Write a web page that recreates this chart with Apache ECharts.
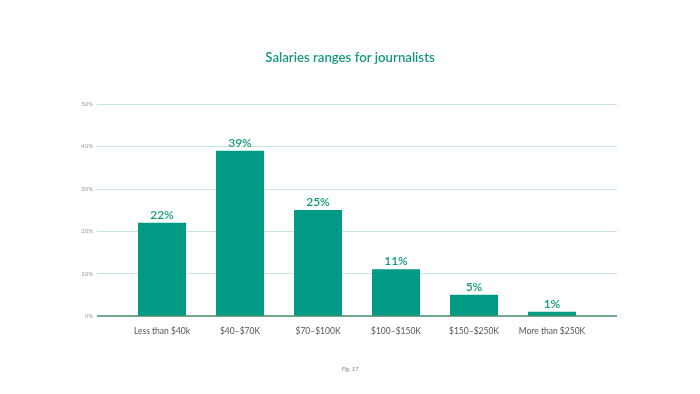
<!DOCTYPE html>
<html><head><meta charset="utf-8">
<script src="https://cdn.jsdelivr.net/npm/echarts@6/dist/echarts.min.js"></script>
<style>html,body{margin:0;padding:0;background:#fff}#c{width:700px;height:394px}</style>
</head><body><div id="c"></div>
<script>
var categories = ['Less than $40k', '$40–$70K', '$70–$100K', '$100–$150K', '$150–$250K', 'More than $250K'];
var values = [22, 39, 25, 11, 5, 1];
var yTicks = [0, 10, 20, 30, 40, 50];
var title = 'Salaries ranges for journalists';
var caption = 'Fig. 17';

var chart = echarts.init(document.getElementById('c'), null, {renderer: 'canvas'});
var font = 'Lato, "Noto Sans", sans-serif';
chart.setOption({
  animation: false,
  title: [{
    text: title, left: 'center', top: 46,
    textStyle: {color: '#16987f', fontSize: 13.2, fontWeight: 600, fontFamily: font}
  }, {
    text: caption, left: 'center', top: 361,
    textStyle: {color: '#888', fontSize: 6, fontStyle: 'italic', fontWeight: 'normal', fontFamily: font}
  }],
  grid: [
    {left: 97, width: 520, top: 104, height: 212},
    {left: 123, width: 468, top: 104, height: 212}
  ],
  xAxis: [
    {gridIndex: 0, type: 'category', data: categories, show: false},
    {gridIndex: 1, type: 'category', data: categories,
     axisLine: {show: false}, axisTick: {show: false},
     axisLabel: {color: '#555', fontSize: 8.5, margin: 11, fontFamily: font, interval: 0}}
  ],
  yAxis: [
    {gridIndex: 0, type: 'value', min: yTicks[0], max: yTicks[yTicks.length - 1], interval: 10,
     axisLine: {show: false}, axisTick: {show: false},
     axisLabel: {formatter: '{value}%', color: '#999', fontSize: 6, margin: 4, fontFamily: font},
     splitLine: {lineStyle: {color: '#c8e7db', width: 1}}},
    {gridIndex: 1, type: 'value', min: 0, max: 50, interval: 10, show: false, splitLine: {show: false}}
  ],
  series: [
    {type: 'line', xAxisIndex: 0, yAxisIndex: 0, data: [], silent: true,
     markLine: {symbol: 'none', silent: true, label: {show: false},
       lineStyle: {color: '#4f8f6f', width: 1.5, type: 'solid'},
       data: [{yAxis: 0}]}},
    {type: 'bar', xAxisIndex: 1, yAxisIndex: 1, data: values, barWidth: 48,
     itemStyle: {color: '#009a85'},
     label: {show: true, position: 'top', distance: 2, formatter: '{c}%',
       color: '#16987f', fontSize: 12, fontWeight: 600, fontFamily: font},
     z: 3}
  ]
});
</script></body></html>
